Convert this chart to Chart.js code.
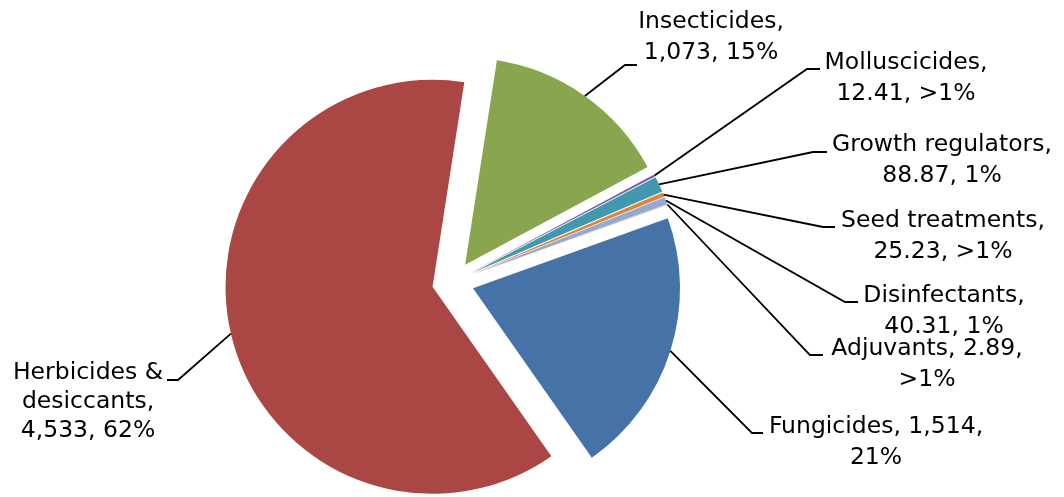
<!DOCTYPE html>
<html>
<head>
<meta charset="utf-8">
<script src="https://cdn.jsdelivr.net/npm/chart.js@4.4.1/dist/chart.umd.min.js"></script>
<style>
  html, body { margin: 0; padding: 0; background: #fff; }
  #wrap { width: 1064px; height: 497px; position: relative; }
</style>
</head>
<body>
<div id="wrap"><canvas id="pieChart"></canvas></div>
<script>
// data, in the order the slices are drawn clockwise
const categories = ["Fungicides", "Herbicides & desiccants", "Insecticides", "Molluscicides",
  "Growth regulators", "Seed treatments", "Disinfectants", "Adjuvants"];
const amounts = [1514, 4533, 1073, 12.41, 88.87, 25.23, 40.31, 2.89];
const shareLabels = ["21%", "62%", "15%", ">1%", "1%", ">1%", "1%", ">1%"];
const sliceColors = ["#4572A7", "#AA4643", "#89A54E", "#7D60A0", "#4198AF", "#DB843D", "#93A9CF", "#D19392"];

const EXPLODE = 21;   // px every slice is pulled out
const RADIUS = 207;
const LINE_H = 30.5;

// where each label sits: text centre x, first baseline, leader elbow, words per line
const labelLayout = [
  { x: 876, y: 433, elbow: [752, 433], end: [763, 433], wrap: [2, 1] },
  { x: 88,  y: 379, elbow: [178, 380], end: [167, 380], wrap: [2, 1, 2], lh: 29 },
  { x: 711, y: 28,  elbow: [625, 65],  end: [637, 65],  wrap: [1, 2] },
  { x: 906, y: 69,  elbow: [807, 69],  end: [820, 69],  wrap: [1, 2] },
  { x: 942, y: 151, elbow: [813, 152], end: [827, 152], wrap: [2, 2] },
  { x: 943, y: 227, elbow: [823, 227], end: [835, 227], wrap: [2, 2] },
  { x: 944, y: 302, elbow: [845, 302], end: [858, 302], wrap: [1, 2] },
  { x: 927, y: 355, elbow: [810, 355], end: [823, 355], wrap: [2, 1] }
];

// the built in "offset" also trims the slice angles (tiny slices vanish),
// so pull every slice out along its bisector ourselves
const explode = {
  id: "explode",
  afterDatasetUpdate(chart, args) {
    const meta = chart.getDatasetMeta(args.index);
    meta.data.forEach(function (arc) {
      if (arc._exploded) return;
      const baseDraw = arc.draw;
      arc.draw = function (ctx, area) {
        const mid = (this.startAngle + this.endAngle) / 2;
        ctx.save();
        ctx.translate(Math.cos(mid) * EXPLODE, Math.sin(mid) * EXPLODE);
        baseDraw.call(this, ctx, area);
        ctx.restore();
      };
      arc._exploded = true;
    });
  }
};

const leaderLabels = {
  id: "leaderLabels",
  afterDatasetsDraw(chart) {
    const ctx = chart.ctx;
    const meta = chart.getDatasetMeta(0);
    ctx.save();
    ctx.font = "23.5px 'DejaVu Sans'";
    ctx.fillStyle = "#000";
    ctx.strokeStyle = "#000";
    ctx.lineWidth = 1.8;
    ctx.textAlign = "center";
    ctx.textBaseline = "alphabetic";
    meta.data.forEach(function (arc, i) {
      const lay = labelLayout[i];
      const mid = (arc.startAngle + arc.endAngle) / 2;
      const r = arc.outerRadius + EXPLODE;
      const ax = arc.x + Math.cos(mid) * r;
      const ay = arc.y + Math.sin(mid) * r;
      ctx.beginPath();
      ctx.moveTo(ax, ay);
      ctx.lineTo(lay.elbow[0], lay.elbow[1]);
      ctx.lineTo(lay.end[0], lay.end[1]);
      ctx.stroke();

      const value = amounts[i].toLocaleString("en-US");
      const words = (categories[i] + ", " + value + ", " + shareLabels[i]).split(" ");
      let k = 0;
      lay.wrap.forEach(function (n, line) {
        const text = words.slice(k, k + n).join(" ");
        k += n;
        ctx.fillText(text, lay.x, lay.y + line * (lay.lh || LINE_H));
      });
    });
    ctx.restore();
  }
};

new Chart(document.getElementById("pieChart"), {
  type: "pie",
  data: {
    labels: categories,
    datasets: [{
      data: amounts,
      backgroundColor: sliceColors,
      borderWidth: 0,
      clip: false
    }]
  },
  options: {
    responsive: true,
    maintainAspectRatio: false,
    animation: false,
    events: [],
    rotation: 70.2,
    radius: RADIUS,
    layout: { padding: { left: 0, right: 158, top: 67, bottom: 0 } },
    plugins: {
      legend: { display: false },
      tooltip: { enabled: false }
    }
  },
  plugins: [explode, leaderLabels]
});
</script>
</body>
</html>
